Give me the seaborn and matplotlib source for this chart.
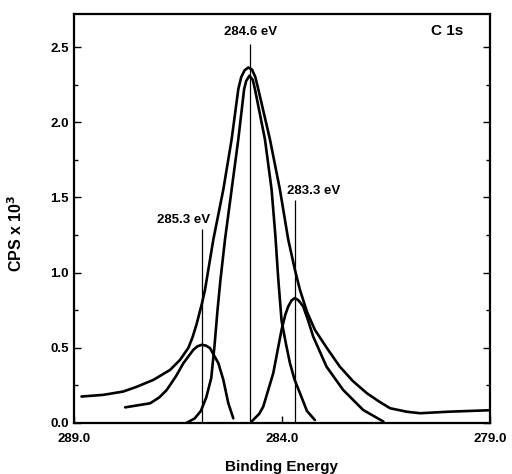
import matplotlib
matplotlib.use("Agg")
import matplotlib.pyplot as plt
import seaborn as sns
import pandas as pd
from matplotlib.ticker import MultipleLocator, FormatStrFormatter

# measured spectrum (envelope)
raw_x = [288.82, 288.30, 287.82, 287.50, 287.09, 286.69, 286.45, 286.25, 286.15,
         286.05, 285.92, 285.85, 285.65, 285.41, 285.21, 285.05, 284.98, 284.90,
         284.81, 284.72, 284.64, 284.57, 284.29, 284.05, 283.85, 283.69, 283.57,
         283.40, 283.21, 282.90, 282.61, 282.30, 281.96, 281.65, 281.40, 281.00,
         280.68, 280.00, 279.00]
raw_y = [0.176, 0.187, 0.209, 0.240, 0.287, 0.353, 0.420, 0.500, 0.570,
         0.660, 0.800, 0.887, 1.220, 1.553, 1.887, 2.220, 2.300, 2.345,
         2.364, 2.350, 2.300, 2.220, 1.887, 1.553, 1.220, 1.020, 0.887,
         0.740, 0.620, 0.490, 0.375, 0.280, 0.198, 0.140, 0.098, 0.075,
         0.065, 0.075, 0.085]

# main component 284.6 eV
main_x = [286.30, 286.10, 285.95, 285.82, 285.70, 285.62, 285.55, 285.48, 285.37,
          285.21, 285.05, 284.91, 284.86, 284.78, 284.70, 284.65, 284.41, 284.25,
          284.16, 284.09, 284.01, 283.90, 283.81, 283.70, 283.57, 283.40, 283.21]
main_y = [0.00, 0.03, 0.08, 0.17, 0.30, 0.52, 0.75, 0.95, 1.22,
          1.553, 1.887, 2.22, 2.275, 2.31, 2.28, 2.22, 1.887, 1.553,
          1.25, 0.96, 0.68, 0.52, 0.40, 0.29, 0.20, 0.08, 0.02]

# component 285.3 eV
left_x = [287.77, 287.17, 286.95, 286.77, 286.55, 286.37, 286.13, 286.03, 285.93,
          285.83, 285.73, 285.53, 285.41, 285.29, 285.17]
left_y = [0.104, 0.131, 0.170, 0.220, 0.310, 0.398, 0.487, 0.510, 0.520,
          0.515, 0.498, 0.398, 0.287, 0.131, 0.031]

# component 283.3 eV
right_x = [284.73, 284.55, 284.45, 284.21, 284.01, 283.92, 283.85, 283.77, 283.69,
           283.60, 283.49, 283.37, 283.25, 282.93, 282.53, 282.05, 281.56]
right_y = [0.010, 0.060, 0.109, 0.331, 0.620, 0.720, 0.775, 0.815, 0.831,
           0.815, 0.775, 0.680, 0.575, 0.375, 0.220, 0.087, 0.009]

peak_pos = [285.92, 284.77, 283.69]
peak_top = [1.29, 2.52, 1.48]
peak_labels = ["285.3 eV", "284.6 eV", "283.3 eV"]
label_x = [286.36, 284.75, 283.25]
label_y = [1.35, 2.60, 1.54]

sns.set_style("ticks")
plt.rcParams['font.family'] = ['Liberation Sans', 'DejaVu Sans']
plt.rcParams['font.weight'] = 'bold'
plt.rcParams['mathtext.default'] = 'bf'
for key in ['text.color', 'axes.labelcolor', 'axes.edgecolor', 'xtick.color', 'ytick.color']:
    plt.rcParams[key] = 'black'

fig = plt.figure(figsize=(5.12, 4.74), dpi=100)
ax = fig.add_axes([0.1445, 0.1076, 0.8125, 0.8629])

for xs, ys in [(raw_x, raw_y), (main_x, main_y), (left_x, left_y), (right_x, right_y)]:
    df = pd.DataFrame({"be": xs, "cps": ys})
    sns.lineplot(data=df, x="be", y="cps", sort=False, estimator=None,
                 color="black", linewidth=1.9, ax=ax)

ax.vlines(peak_pos, 0, peak_top, color="black", linewidth=0.9)
for lx, ly, t in zip(label_x, label_y, peak_labels):
    ax.text(lx, ly, t, ha="center", va="center", fontsize=9.5, fontweight="bold")
ax.text(280.03, 2.61, "C 1s", ha="center", va="center", fontsize=11, fontweight="bold")

ax.set_xlim(289, 279)
ax.set_ylim(0, 2.72)
ax.set_xticks([289, 284, 279])
ax.xaxis.set_major_formatter(FormatStrFormatter("%.1f"))
ax.yaxis.set_major_locator(MultipleLocator(0.5))
ax.yaxis.set_minor_locator(MultipleLocator(0.25))
ax.yaxis.set_major_formatter(FormatStrFormatter("%.1f"))
ax.tick_params(axis="both", which="both", direction="in", right=True,
               labelsize=9.5, width=1.0)
ax.tick_params(which="major", length=5)
ax.tick_params(which="minor", length=3)
ax.tick_params(axis="x", pad=7)
for lab in ax.get_xticklabels() + ax.get_yticklabels():
    lab.set_fontweight("bold")
for s in ax.spines.values():
    s.set_linewidth(1.6)

ax.set_xlabel("Binding Energy", fontsize=11, fontweight="bold", labelpad=11)
ax.set_ylabel("CPS x 10$^3$", fontsize=11.5, fontweight="bold")
ax.yaxis.set_label_coords(-0.118, 0.4645)

fig.savefig("out.png", dpi=100)
